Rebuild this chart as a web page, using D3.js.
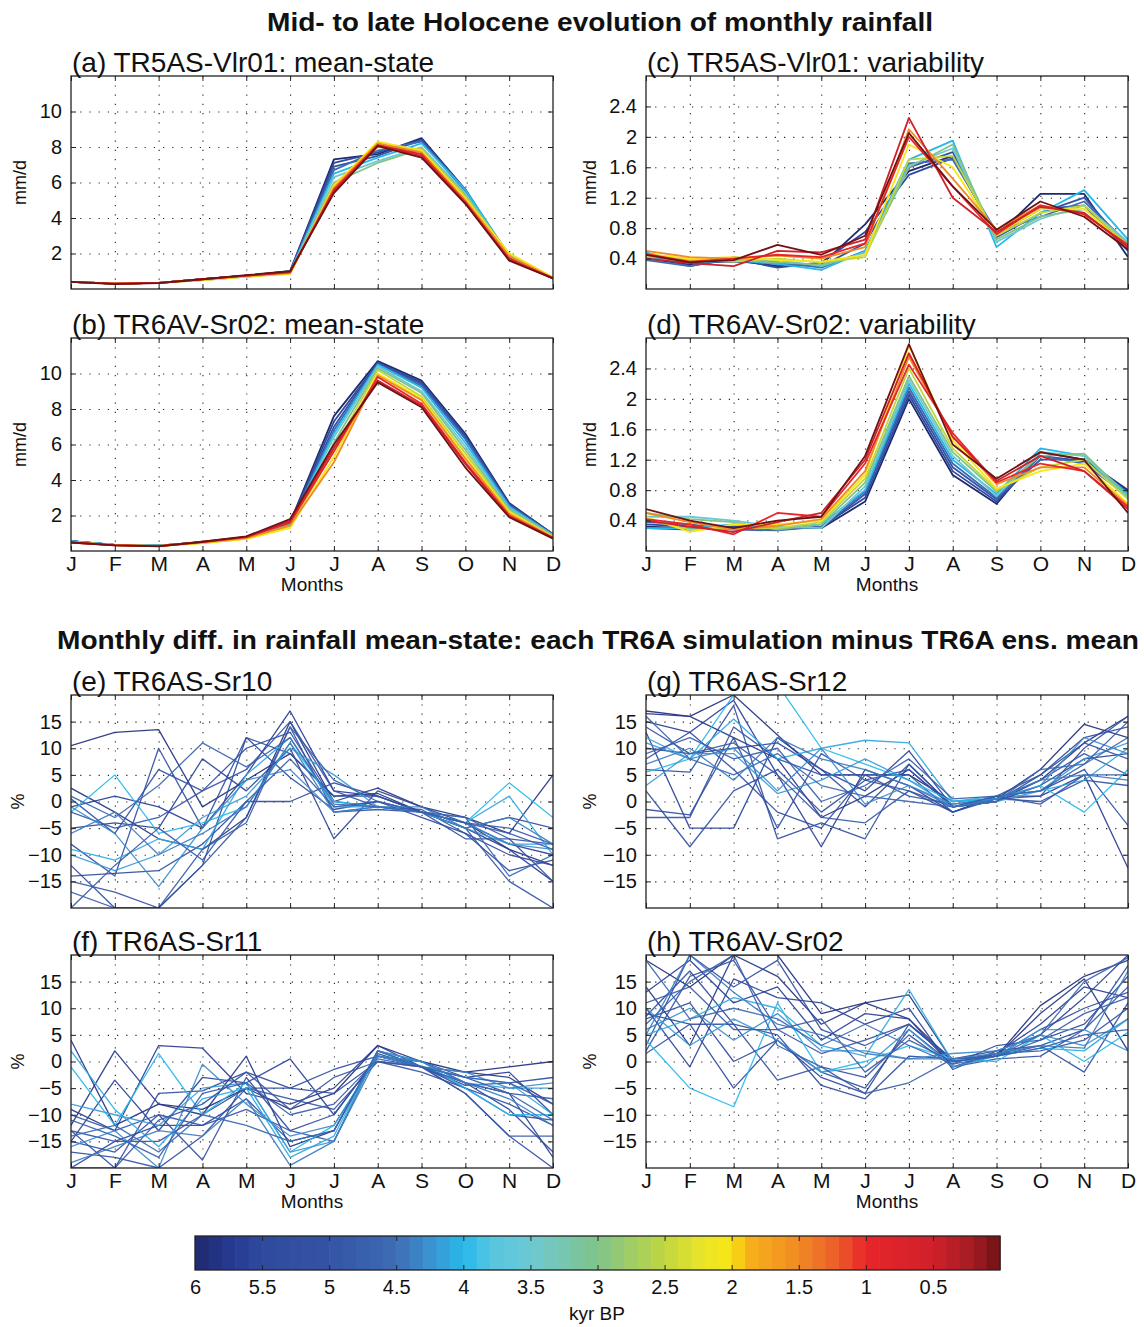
<!DOCTYPE html>
<html>
<head>
<meta charset="utf-8">
<script src="https://cdn.jsdelivr.net/npm/d3@7"></script>
<style>
  body { margin: 0; background: #fff; }
  text { font-family: "Liberation Sans", Arial, Helvetica, sans-serif; fill: #111; }
</style>
</head>
<body>
<svg id="fig" width="1144" height="1327"></svg>
<script>
// month labels
const months = ["J","F","M","A","M","J","J","A","S","O","N","D"];

// ages (kyr BP) of the time slices drawn in panels a-d
const sliceAges = [6, 5.5, 5, 4.5, 4, 3.5, 3, 2.5, 2, 1.5, 1, 0.5, 0];

// (a) TR5AS-Vlr01 mean-state, mm/d
const meanVlr01 = [
  [0.40,0.30,0.35,0.55,0.75,1.00,7.30,7.60,8.50,5.60,1.80,0.60],
  [0.40,0.30,0.35,0.55,0.75,1.00,7.10,7.70,8.40,5.60,1.80,0.60],
  [0.40,0.30,0.35,0.55,0.75,0.95,6.90,7.50,8.40,5.55,1.85,0.60],
  [0.40,0.30,0.35,0.55,0.75,0.95,6.70,7.80,8.30,5.50,1.85,0.60],
  [0.40,0.30,0.35,0.55,0.75,0.95,6.50,7.40,8.20,5.60,1.90,0.60],
  [0.40,0.30,0.35,0.50,0.70,0.90,6.30,7.20,8.00,5.40,1.90,0.60],
  [0.40,0.30,0.35,0.50,0.70,0.90,6.00,7.10,7.90,5.30,1.95,0.60],
  [0.40,0.30,0.35,0.50,0.70,0.85,5.90,8.00,7.90,5.20,2.00,0.65],
  [0.40,0.30,0.35,0.50,0.70,0.85,5.80,8.30,7.80,5.10,2.00,0.65],
  [0.40,0.30,0.35,0.55,0.72,0.90,5.70,8.20,7.70,5.00,1.85,0.62],
  [0.40,0.30,0.35,0.55,0.75,0.95,5.60,8.10,7.60,4.90,1.70,0.60],
  [0.40,0.30,0.35,0.55,0.75,0.95,5.50,8.10,7.50,4.85,1.65,0.60],
  [0.40,0.28,0.33,0.55,0.78,1.00,5.40,8.05,7.40,4.80,1.60,0.60]
];

// (b) TR6AV-Sr02 mean-state, mm/d
const meanSr02 = [
  [0.55,0.35,0.30,0.50,0.75,1.60,7.60,10.70,9.60,6.60,2.70,0.95],
  [0.55,0.35,0.30,0.50,0.75,1.55,7.30,10.60,9.50,6.50,2.65,0.95],
  [0.55,0.35,0.30,0.50,0.75,1.55,7.00,10.60,9.40,6.40,2.60,0.92],
  [0.55,0.35,0.30,0.50,0.75,1.50,6.80,10.50,9.30,6.30,2.55,0.92],
  [0.55,0.35,0.30,0.48,0.72,1.50,6.60,10.50,9.20,6.10,2.50,0.90],
  [0.52,0.35,0.30,0.48,0.72,1.45,6.40,10.40,9.00,5.90,2.40,0.88],
  [0.52,0.35,0.30,0.48,0.70,1.40,6.10,10.30,8.90,5.70,2.35,0.85],
  [0.50,0.33,0.28,0.45,0.68,1.35,5.70,10.20,8.70,5.50,2.25,0.82],
  [0.50,0.33,0.28,0.45,0.68,1.30,5.30,10.00,8.60,5.30,2.20,0.80],
  [0.50,0.33,0.28,0.48,0.72,1.45,5.00,9.90,8.50,5.20,2.10,0.78],
  [0.48,0.33,0.28,0.50,0.78,1.60,5.60,9.80,8.30,5.00,2.00,0.75],
  [0.48,0.32,0.27,0.52,0.80,1.70,5.80,9.60,8.20,4.90,1.95,0.72],
  [0.48,0.32,0.26,0.52,0.82,1.80,6.00,9.50,8.10,4.70,1.90,0.70]
];

// (c) TR5AS-Vlr01 variability, mm/d
const varVlr01 = [
  [0.40,0.32,0.38,0.30,0.32,0.85,1.55,1.75,0.70,1.25,1.25,0.42],
  [0.45,0.30,0.40,0.28,0.35,0.75,1.50,1.72,0.72,1.05,1.10,0.50],
  [0.42,0.35,0.36,0.33,0.30,0.60,1.60,1.80,0.68,1.00,1.20,0.55],
  [0.38,0.30,0.42,0.35,0.28,0.50,1.65,1.70,0.75,0.95,1.15,0.60],
  [0.48,0.34,0.38,0.33,0.25,0.50,1.70,1.95,0.55,1.00,1.30,0.65],
  [0.42,0.40,0.40,0.38,0.30,0.48,1.62,1.85,0.62,0.92,1.10,0.62],
  [0.40,0.36,0.38,0.35,0.32,0.45,1.60,1.90,0.65,0.95,1.05,0.60],
  [0.44,0.38,0.36,0.40,0.35,0.42,1.70,1.75,0.70,1.00,1.10,0.58],
  [0.46,0.40,0.42,0.38,0.36,0.45,1.90,1.60,0.72,1.05,1.05,0.55],
  [0.50,0.42,0.40,0.44,0.40,0.55,2.10,1.45,0.78,1.10,1.00,0.55],
  [0.46,0.36,0.40,0.45,0.42,0.60,2.00,1.35,0.72,1.10,0.98,0.58],
  [0.40,0.34,0.30,0.50,0.48,0.65,2.25,1.20,0.75,1.08,1.00,0.55],
  [0.45,0.35,0.38,0.58,0.45,0.70,2.05,1.35,0.78,1.15,0.95,0.52]
];

// (d) TR6AV-Sr02 variability, mm/d
const varSr02 = [
  [0.32,0.30,0.30,0.30,0.30,0.65,2.00,1.00,0.62,1.30,1.20,0.80],
  [0.35,0.32,0.32,0.28,0.32,0.70,2.05,1.05,0.65,1.25,1.18,0.78],
  [0.30,0.28,0.30,0.30,0.30,0.75,2.10,1.10,0.68,1.20,1.20,0.75],
  [0.38,0.35,0.28,0.27,0.32,0.78,2.15,1.15,0.70,1.25,1.15,0.72],
  [0.30,0.30,0.35,0.30,0.35,0.80,2.20,1.20,0.75,1.35,1.25,0.75],
  [0.45,0.45,0.40,0.32,0.30,0.85,2.25,1.25,0.72,1.30,1.25,0.70],
  [0.50,0.42,0.38,0.28,0.35,0.90,2.30,1.30,0.78,1.25,1.28,0.72],
  [0.42,0.28,0.30,0.30,0.38,0.95,2.40,1.35,0.80,1.10,1.20,0.68],
  [0.45,0.25,0.35,0.35,0.40,1.00,2.70,1.45,0.82,1.05,1.15,0.62],
  [0.50,0.38,0.28,0.33,0.42,1.05,2.55,1.50,0.88,1.10,1.10,0.60],
  [0.42,0.35,0.22,0.50,0.45,1.15,2.45,1.55,0.90,1.15,1.05,0.58],
  [0.40,0.32,0.25,0.38,0.50,1.20,2.60,1.50,0.92,1.25,1.05,0.55],
  [0.55,0.40,0.30,0.40,0.45,1.25,2.72,1.40,0.95,1.30,1.20,0.50]
];

// (e)-(h) ages of the TR6A simulations
const simAges = [5.9, 5.8, 5.7, 5.6, 5.5, 5.4, 5.3, 5.2, 5.1, 5.0, 4.1, 4.0, 4.2, 4.3, 4.9, 4.6, 4.8, 4.4];

// (e) TR6AS-Sr10, % diff
const diffSr10 = [
  [10.5,13,13.5,-1,4,9,1,1.5,-2,-4,-9,-12],
  [2.5,-2,-7,-9,-3,15,0,2.5,-1,-3,-6,5],
  [-1,1,-1,-5,5,17,2,1,-2,-5,-9,-15],
  [-5,-4,-5,8,2,10,-7,2,-1,-4,-8,-10],
  [-12,-20,-20,-12,12,4.5,-1.5,0,-3,-6,-13,-11],
  [-14,-13.5,-13,-8,0,0,3.5,1,-2,-5,-3,-5],
  [0.5,-6,6,2,10,13,0,-1,-1.5,-6,-10,-12],
  [-8,-14,10,-5,12,9,1,1,-2,-3,-7,-15],
  [-15,-17,-20,-12,-3,14,-2,-1.5,-2,-7,-7,-8],
  [-2,-5,-3,2,6,15,2,-1,-2,-5,-15,-20],
  [-9,-11,-7,-9,5,12,-1,-1,-2,-4,1,-10],
  [-2,5,-6,-4,-1,11,0,-1,-2,-4,3.5,-3],
  [-10,-13,-10,-3,1,10,5,-1,-2,-5,-8,-8],
  [-1,-6,-16,-5,4,6,-2,-1,-2,-4,-8,-9],
  [-20,-12,-5,-11,0,8,-1,0,-2,-4,-5,-8],
  [1,-3,3,11,6.5,12,-0.5,-1,-2,-3,-14,-10],
  [-17,-20,-20,-9,-4,14,4,0,-2,-4,-6,-9],
  [-6,-2,-10,-6,-1,11,-2,-1,-1,-5,-3,-8]
];

// (f) TR6AS-Sr11, % diff
const diffSr11 = [
  [4,-12,-8,-9,-5,-9,-6,3,0,-2,-1,0],
  [-12,2,-8,-10,1,-16,-13,2,-1,-2,-3,-8],
  [-9,-13,3,2.5,-6,-8,-5,3,-1,-3,-2,-10],
  [-15,-3.5,-13,-3,-4,0.5,-10,1,0,-4,-6,-18],
  [-20,-15,-12,-12,-7,-15,-13,1.5,-1,-4,-9,-17],
  [-13,-20,-6,-5.5,-2,-5,-1.5,1,-1,-4.5,-4,-3],
  [-17,-18,-20,-14,-5,-5,-6,0,-1,-6,-14,-20],
  [-15,-17,-10,-18.5,-3,-13,-10,1,-1,-5,-10,-11],
  [-13,-15,-15,-10,-5,-7,-9,0,-2,-5,-8,-12],
  [-10,-13,-10,-12,-9,-13,-15,2,0,-3,-6,-7],
  [2,-9,-16,-7,-5,-18,-14,2,-1,-3,-4,-10],
  [-1,-12,1.5,-10,-4,-17,-12,1,0,-5,-10,-10],
  [-8,-10,-12,-5,-4,-17,-15,2,0,-4,-5,-5],
  [-16,-13,-20,-0.5,-8,-14,-12,1,-1,-2,-5,-4],
  [-20,-20,-11,-8,-2,-9,-3,0,-1,-6,-14,-14],
  [-14,-12,-17,-10,-12,-15,-13,2,-1,-4,-6,-11],
  [-11,-14,-18,-6,-4,-10,-8,0.5,-1,-3,-4,-8],
  [-19,-16,-13,-14,-7,-19.5,-15,1,0,-4,-7,-12]
];

// (g) TR6AS-Sr12, % diff
const diffSr12 = [
  [17,16,20,12.5,5,5,5,0,0.5,6,14.5,12],
  [16.5,16,12,8,-3,1,6,-1,0,4,11,16],
  [15,13,19,5,-8.5,6,3,-2,1,1,5,-12.5],
  [13,-5,-5,12,6,2,9.5,-1,0,3,8,9],
  [10,9,10,11,6,-1,7,-1,0,5,12,14],
  [8,13,6,-2,-5,5,5,-2,1,2,6,-4.5],
  [6,5.5,18,-7,-4,-7,7,-1,0.5,1,10,16],
  [2,-8.5,2,6,-2,4,2,-2,0.5,0,4,3],
  [-1.5,-2.5,12,-5,9,4,6,-1,1,5,11,8],
  [-3,-3,14,8,5,5,1,-0.5,0.5,4,9,5],
  [12,8,15.5,8,10,11.5,11,0,1,2,4,10],
  [5.5,8,20,22,10,7,4,0,0.5,3,-2,6],
  [3,9,9,1.5,4,8,4,-1,0,2,8,11],
  [11,8,10,2,10,-0.5,3,-0.5,0.5,3,12,9],
  [14,9,11,5,-3,-4,2,-1,1,-0.5,5,5],
  [16,8,5,9,3,1,0,-1,0,6,7,12],
  [9,12,8,10,0,3,8,0.5,1,2,7,15],
  [7,10,4,12,8,6,3,-1,0.5,4,5,4]
];

// (h) TR6AV-Sr02, % diff
const diffSr02 = [
  [19,14,20,20,9,11,8,0,1,10.5,16,19],
  [14,3,20,16,7,11,12.5,0,1,9,15.5,2],
  [13,19,11,14,4,9,8,-1,1.5,7,14,12],
  [10,-1,15.5,12,11,7,10,-1.5,2,5,12,20],
  [9,7,-5,4,-3,-6,7,0,1,6,10,13],
  [8.5,17,7,5,-4.5,-7,1,0.5,2,3,6,18],
  [8,11,0,4,-2,-5,6,-0.5,3,4,7,16],
  [3,20,14,19,6,3,7,0.5,1,3,-2,11],
  [1.5,7,7,-3.5,-1,-3,5,-1,0.5,1,6,14],
  [2,16,19,6,1.5,4,7,0,1.5,2,4,10],
  [5,8,12,10,3,1,13.5,0,1,2.5,2,8],
  [4,-5,-8.5,11,-2,0,3,0.5,0,5,0,5.5],
  [10,3,8,4,-2,-1,6,-1,1,6,6,2],
  [6,10,4,9,2,2,0.5,1.5,2,5,3,8],
  [11,14,6,6,8,-2,4,0,1,4,9,12],
  [19,8,10,8,3,7,3,-0.5,1,5,15,19.5],
  [7,15,20,3,-1,-6,-4,0.5,1,2.5,5,6],
  [5,20,13,7,5,1.5,0.5,0.5,1.5,3,2.5,17]
];

// tick values
const meanTicks = [2, 4, 6, 8, 10];
const varTicks = [0.4, 0.8, 1.2, 1.6, 2.0, 2.4];
const diffTicks = [-15, -10, -5, 0, 5, 10, 15];
const cbTicks = [6, 5.5, 5, 4.5, 4, 3.5, 3, 2.5, 2, 1.5, 1, 0.5];

// colormap (kyr BP -> colour)
const cmapAges = [6, 5.7, 5.5, 5, 4.5, 4.2, 4, 3.8, 3.5, 3, 2.5, 2.2, 2, 1.9, 1.5, 1.2, 1, 0.5, 0.2, 0];
const cmapColors = ["#1f2a6e","#283c94","#2e4a9e","#3553a5","#3d6cb4","#3a9ad6","#27b8ea","#55c5e0",
                    "#6dc8d3","#80c38a","#c0d640","#ece528","#f8e614","#f7b418","#f08a24","#ec5a2a",
                    "#e8262a","#d0202a","#a21c22","#6e1214"];
const ageColor = d3.scaleLinear().domain(cmapAges).range(cmapColors).clamp(true);

const svg = d3.select("#fig");
svg.append("rect").attr("width", 1144).attr("height", 1327).attr("fill", "#fff");

const W = 482, H = 213;
const FONT = "Liberation Sans, Arial, sans-serif";
const fmtY = d => (d < 0 ? "\u2212" + Math.abs(d) : String(d));

function drawPanel(p) {
  const g = svg.append("g").attr("transform", `translate(${p.x},${p.y})`);
  const x = d3.scaleLinear().domain([0, 11]).range([0, W]);
  const y = d3.scaleLinear().domain(p.domain).range([H, 0]);

  // dotted grid
  const grid = g.append("g").attr("class", "grid");
  grid.append("g").call(d3.axisLeft(y).tickValues(p.ticks).tickSize(-W).tickFormat(""));
  grid.append("g").attr("transform", `translate(0,${H})`)
    .call(d3.axisBottom(x).tickValues(d3.range(1, 11)).tickSize(-H).tickFormat(""));
  grid.selectAll("path").remove();
  grid.selectAll("line").attr("stroke", "#222").attr("stroke-width", 1.1).attr("stroke-dasharray", "1.2,8");

  // series
  const clipId = "clip" + p.id;
  g.append("clipPath").attr("id", clipId).append("rect").attr("width", W).attr("height", H);
  const line = d3.line().x((d, i) => x(i)).y(d => y(d));
  g.append("g").attr("clip-path", `url(#${clipId})`)
    .selectAll("path").data(p.series).join("path")
    .attr("d", line)
    .attr("fill", "none")
    .attr("stroke", (d, i) => ageColor(p.ages[i]))
    .attr("stroke-width", p.lw)
    .attr("stroke-opacity", p.op)
    .attr("stroke-linejoin", "round");

  // axes with inward ticks
  const axes = g.append("g").attr("class", "axes");
  const left = axes.append("g").call(d3.axisLeft(y).tickValues(p.ticks).tickSize(-5).tickPadding(9).tickFormat(fmtY));
  axes.append("g").attr("transform", `translate(${W},0)`).call(d3.axisRight(y).tickValues(p.ticks).tickSize(-5).tickFormat(""));
  axes.append("g").call(d3.axisTop(x).tickValues(d3.range(12)).tickSize(-5).tickFormat(""));
  const bottom = axes.append("g").attr("transform", `translate(0,${H})`)
    .call(d3.axisBottom(x).tickValues(d3.range(12)).tickSize(-5).tickPadding(5)
      .tickFormat(i => p.xlabels ? months[i] : ""));
  axes.selectAll(".domain").remove();
  axes.selectAll(".tick line").attr("stroke", "#222");
  left.selectAll("text").attr("font-size", 20).attr("font-family", FONT).attr("fill", "#111");
  bottom.selectAll("text").attr("font-size", 21).attr("font-family", FONT).attr("fill", "#111");

  // frame
  g.append("rect").attr("width", W).attr("height", H).attr("fill", "none").attr("stroke", "#222").attr("stroke-width", 1.3);

  // labels
  g.append("text").attr("x", 1).attr("y", -4).attr("font-size", 28).text(p.title);
  g.append("text").attr("transform", `translate(${p.ylabX},${H / 2}) rotate(-90)`)
    .attr("text-anchor", "middle").attr("font-size", 18).text(p.ylabel);
  if (p.xlabels) {
    g.append("text").attr("x", W / 2).attr("y", H + 40).attr("text-anchor", "middle")
      .attr("font-size", 19).text("Months");
  }
}

const simLW = 1.3, simOp = 0.92;
const panels = [
  {id: "a", x: 71, y: 76, title: "(a) TR5AS-Vlr01: mean-state", series: meanVlr01, ages: sliceAges, domain: [0, 12], ticks: meanTicks, ylabel: "mm/d", ylabX: -45, xlabels: false, lw: 1.8, op: 1},
  {id: "b", x: 71, y: 338, title: "(b) TR6AV-Sr02: mean-state", series: meanSr02, ages: sliceAges, domain: [0, 12], ticks: meanTicks, ylabel: "mm/d", ylabX: -45, xlabels: true, lw: 1.8, op: 1},
  {id: "c", x: 646, y: 76, title: "(c) TR5AS-Vlr01: variability", series: varVlr01, ages: sliceAges, domain: [0, 2.8], ticks: varTicks, ylabel: "mm/d", ylabX: -50, xlabels: false, lw: 1.8, op: 1},
  {id: "d", x: 646, y: 338, title: "(d) TR6AV-Sr02: variability", series: varSr02, ages: sliceAges, domain: [0, 2.8], ticks: varTicks, ylabel: "mm/d", ylabX: -50, xlabels: true, lw: 1.8, op: 1},
  {id: "e", x: 71, y: 695, title: "(e) TR6AS-Sr10", series: diffSr10, ages: simAges, domain: [-20, 20], ticks: diffTicks, ylabel: "%", ylabX: -47, xlabels: false, lw: simLW, op: simOp},
  {id: "f", x: 71, y: 955, title: "(f) TR6AS-Sr11", series: diffSr11, ages: simAges, domain: [-20, 20], ticks: diffTicks, ylabel: "%", ylabX: -47, xlabels: true, lw: simLW, op: simOp},
  {id: "g", x: 646, y: 695, title: "(g) TR6AS-Sr12", series: diffSr12, ages: simAges, domain: [-20, 20], ticks: diffTicks, ylabel: "%", ylabX: -50, xlabels: false, lw: simLW, op: simOp},
  {id: "h", x: 646, y: 955, title: "(h) TR6AV-Sr02", series: diffSr02, ages: simAges, domain: [-20, 20], ticks: diffTicks, ylabel: "%", ylabX: -50, xlabels: true, lw: simLW, op: simOp}
];
panels.forEach(drawPanel);

// headings
svg.append("text").attr("x", 600).attr("y", 31).attr("text-anchor", "middle")
  .attr("font-size", 25).attr("font-weight", "bold")
  .attr("textLength", 666).attr("lengthAdjust", "spacingAndGlyphs")
  .text("Mid- to late Holocene evolution of monthly rainfall");
svg.append("text").attr("x", 598).attr("y", 649).attr("text-anchor", "middle")
  .attr("font-size", 25).attr("font-weight", "bold")
  .attr("textLength", 1082).attr("lengthAdjust", "spacingAndGlyphs")
  .text("Monthly diff. in rainfall mean-state: each TR6A simulation minus TR6A ens. mean");

// colour bar
const cb = svg.append("g").attr("transform", "translate(195,1236)");
const cbW = 805, cbH = 34;
const cbx = d3.scaleLinear().domain([6, 0]).range([0, cbW]);
const bins = d3.range(60).map(i => 6 - i * 0.1);
cb.selectAll("rect.bin").data(bins).join("rect").attr("class", "bin")
  .attr("x", d => cbx(d))
  .attr("y", 0)
  .attr("width", cbx(5.9) - cbx(6) + 0.6)
  .attr("height", cbH)
  .attr("fill", d => ageColor(d - 0.05));
cb.append("g").call(d3.axisTop(cbx).tickValues(cbTicks).tickSize(-5).tickFormat(""));
const cbAxis = cb.append("g").attr("transform", `translate(0,${cbH})`)
  .call(d3.axisBottom(cbx).tickValues(cbTicks).tickSize(-5).tickPadding(10).tickFormat(d => String(d)));
cb.selectAll(".domain").remove();
cb.selectAll(".tick line").attr("stroke", "#222");
cbAxis.selectAll("text").attr("font-size", 20).attr("font-family", FONT).attr("fill", "#111");
cb.append("rect").attr("width", cbW).attr("height", cbH).attr("fill", "none").attr("stroke", "#222").attr("stroke-width", 1.3);
cb.append("text").attr("x", 402).attr("y", 84).attr("text-anchor", "middle").attr("font-size", 19).text("kyr BP");
</script>
</body>
</html>
